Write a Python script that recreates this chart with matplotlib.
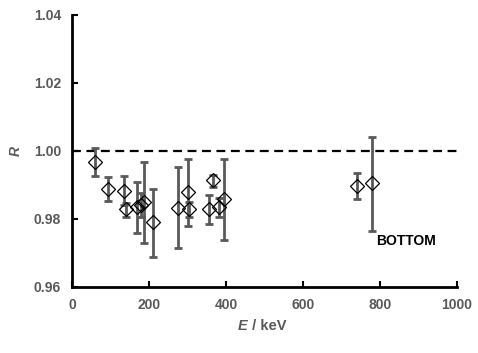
import matplotlib
matplotlib.use("Agg")
import matplotlib.pyplot as plt
import numpy as np

E = [60, 94, 136, 140, 168, 179, 188, 211, 276, 301, 305, 357, 367, 383, 396, 741, 778]
R = [0.9969, 0.9887, 0.9882, 0.9829, 0.9836, 0.9841, 0.9851, 0.9790, 0.9833, 0.9879,
     0.9829, 0.9829, 0.9915, 0.9834, 0.9858, 0.9898, 0.9905]
R_hi = [1.0010, 0.9924, 0.9927, 0.9846, 0.9910, 0.9876, 0.9969, 0.9888, 0.9954, 0.9977,
        0.9851, 0.9872, 0.9930, 0.9861, 0.9977, 0.9936, 1.0042]
R_lo = [0.9927, 0.9854, 0.9840, 0.9807, 0.9758, 0.9807, 0.9730, 0.9689, 0.9716, 0.9779,
        0.9807, 0.9785, 0.9895, 0.9807, 0.9738, 0.9860, 0.9766]
xticks = [0, 200, 400, 600, 800, 1000]
yticks = [0.96, 0.98, 1.00, 1.02, 1.04]
ref_level = 1.00

plt.rcParams['font.family'] = ['Liberation Sans', 'DejaVu Sans']
fig = plt.figure(figsize=(4.78, 3.53), dpi=100)
ax = fig.add_axes([72/478, 1-287/353, (457-72)/478, (287-15)/353])

R_arr = np.array(R)
yerr = [R_arr - np.array(R_lo), np.array(R_hi) - R_arr]
ax.errorbar(E, R, yerr=yerr, fmt='none', ecolor='#595959', elinewidth=2,
            capsize=3.2, capthick=2, zorder=2)
ax.plot(E, R, linestyle='none', marker='D', markersize=7, markerfacecolor='none',
        markeredgecolor='black', markeredgewidth=0.9, zorder=3)
ax.axhline(ref_level, color='black', linestyle=(0, (4, 2.5)), linewidth=1.6, zorder=1)

ax.set_xlim(0, 1000)
ax.set_ylim(0.96, 1.04)
ax.set_xticks(xticks)
ax.set_yticks(yticks)
ax.set_xticklabels([str(v) for v in xticks])
ax.set_yticklabels([f"{v:.2f}" for v in yticks])
ax.tick_params(direction='in', length=4, width=1.5, colors='black', labelcolor='#595959',
               labelsize=10)
ax.tick_params(axis='x', pad=8)
ax.tick_params(axis='y', pad=8)
for lab in ax.get_xticklabels() + ax.get_yticklabels():
    lab.set_fontweight('bold')
for s in ['top', 'right']:
    ax.spines[s].set_visible(False)
for s in ['left', 'bottom']:
    ax.spines[s].set_linewidth(2)
    ax.spines[s].set_color('black')

fig.text(16/478, 1-151/353, 'R', rotation=90, ha='center', va='center',
         fontsize=10, fontweight='bold', fontstyle='italic', color='#595959')
fig.text(247/478, 1-326/353, 'E', ha='right', va='center', fontsize=10.5,
         fontweight='bold', fontstyle='italic', color='#595959')
fig.text(248/478, 1-326/353, ' / keV', ha='left', va='center', fontsize=10.5,
         fontweight='bold', color='#595959')
ax.text(406/478, 1-241/353, 'BOTTOM', transform=fig.transFigure, ha='center',
        va='center', fontsize=10, fontweight='bold', color='black')

fig.savefig('out.png', dpi=100)
